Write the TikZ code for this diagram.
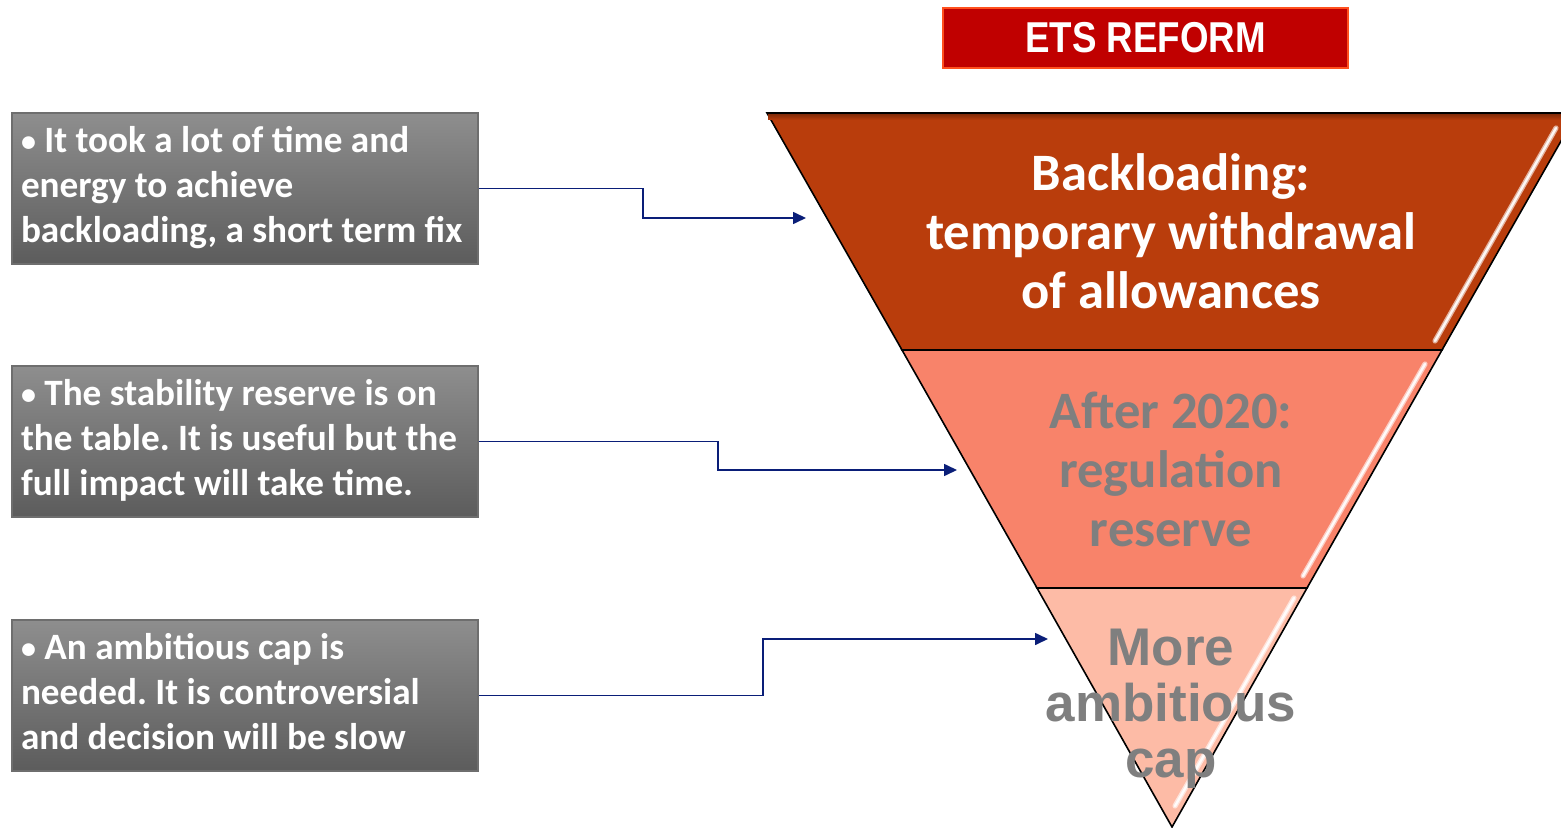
\documentclass[tikz,border=0pt]{standalone}
\usepackage{fontspec}
\setmainfont{Carlito}
\newfontfamily\arialfont{Liberation Sans}
\newfontfamily\narrowfont[FakeStretch=0.85]{Liberation Sans}
\usetikzlibrary{arrows.meta}
\frenchspacing
\definecolor{navyline}{RGB}{10,30,120}
\definecolor{bandA}{RGB}{185,61,12}
\definecolor{bandB}{RGB}{248,131,106}
\definecolor{bandC}{RGB}{253,187,166}
\definecolor{txtgray}{RGB}{127,127,127}
\definecolor{etsred}{RGB}{192,0,0}
\definecolor{etsborder}{RGB}{255,80,30}
\definecolor{boxtop}{RGB}{142,142,142}
\definecolor{boxbot}{RGB}{92,92,92}
\definecolor{boxedge}{RGB}{110,110,110}
\newcommand{\smallbullet}{{\fontsize{15pt}{15pt}\selectfont\raisebox{0.5pt}{•}}}
\newcommand{\boxlines}[3]{\raisebox{-1.5pt}{\begin{tabular}{@{}l@{}}#1\\#2\\#3\end{tabular}}}
\tikzset{
  notebox/.style={rectangle, top color=boxtop, bottom color=boxbot, draw=boxedge, line width=0.6pt,
    minimum width=233pt, inner xsep=0pt, inner ysep=0pt, minimum height=75.5pt,
    text=white, font=\bfseries\fontsize{18.6pt}{22.5pt}\selectfont},
  bandtext/.style={align=center, font=\bfseries\fontsize{26.3pt}{29.5pt}\selectfont},
  connector/.style={draw=navyline, line width=0.8pt, -{Triangle[length=6.5pt,width=6pt]}},
  bandedge/.style={draw=black, line width=0.8pt, line join=miter},
  gloss/.style={draw=white, line width=2.6pt, opacity=0.6, line cap=round},
  glosscore/.style={draw=white, line width=1.2pt, opacity=0.9, line cap=round}
}
\begin{document}
\begin{tikzpicture}[x=0.5pt,y=-0.5pt]
\useasboundingbox (0,0) rectangle (1561,828);
% ETS title
\node[fill=etsred, draw=etsborder, line width=0.9pt, minimum width=202.5pt, minimum height=30pt,
  text=white, font=\narrowfont\bfseries\fontsize{21.6pt}{24pt}\selectfont] (ets) at (1145.5,38) {ETS REFORM};
% funnel bands
\path[fill=bandA, bandedge] (767,113) -- (1577,113) -- (1442,350) -- (902,350) -- cycle;
\path[top color=bandA!70!black, bottom color=bandA] (768,114) rectangle (1576,120);
\path[bandedge] (767,113) -- (1577,113);
\path[fill=bandB, bandedge] (902,350) -- (1442,350) -- (1307,588) -- (1037,588) -- cycle;
\path[fill=bandC, bandedge] (1037,588) -- (1307,588) -- (1172,827) -- cycle;
% gloss highlights
\draw[gloss] (1556,128) -- (1435,341);
\draw[glosscore] (1556,128) -- (1435,341);
\draw[gloss] (1425,364) -- (1303,576);
\draw[glosscore] (1425,364) -- (1303,576);
\draw[gloss] (1294,598) -- (1175,806);
\draw[glosscore] (1294,598) -- (1175,806);
% band texts
\node[bandtext, text=white] (b1txt) at (1171,231) {Backloading:\\temporary withdrawal\\of allowances};
\node[bandtext, text=txtgray] (b2txt) at (1171,469) {After 2020:\\regulation\\reserve};
\node[align=center, text=txtgray, font=\arialfont\bfseries\fontsize{26.5pt}{28pt}\selectfont] (b3txt) at (1171,709) {More\\ambitious\\cap};
% left boxes
\node[notebox] (n1) at (245,188.5) {\makebox[224pt][l]{\boxlines{\smallbullet\ It took a lot of time and}{energy to achieve}{backloading, a short term fix}}};
\node[notebox] (n2) at (245,441.5) {\makebox[224pt][l]{\boxlines{\smallbullet\ The stability reserve is on}{the table. It is useful but the}{full impact will take time.}}};
\node[notebox] (n3) at (245,695.5) {\makebox[224pt][l]{\boxlines{\smallbullet\ An ambitious cap is}{needed. It is controversial}{and decision will be slow}}};
% targets
\coordinate (t1) at (806,218);
\coordinate (t2) at (957,470);
\coordinate (t3) at (1048,639);
\draw[connector] (n1.east) -| (643,218) -- (t1);
\draw[connector] (n2.east) -| (718,470) -- (t2);
\draw[connector] (n3.east) -| (763,639) -- (t3);
\end{tikzpicture}
\end{document}
